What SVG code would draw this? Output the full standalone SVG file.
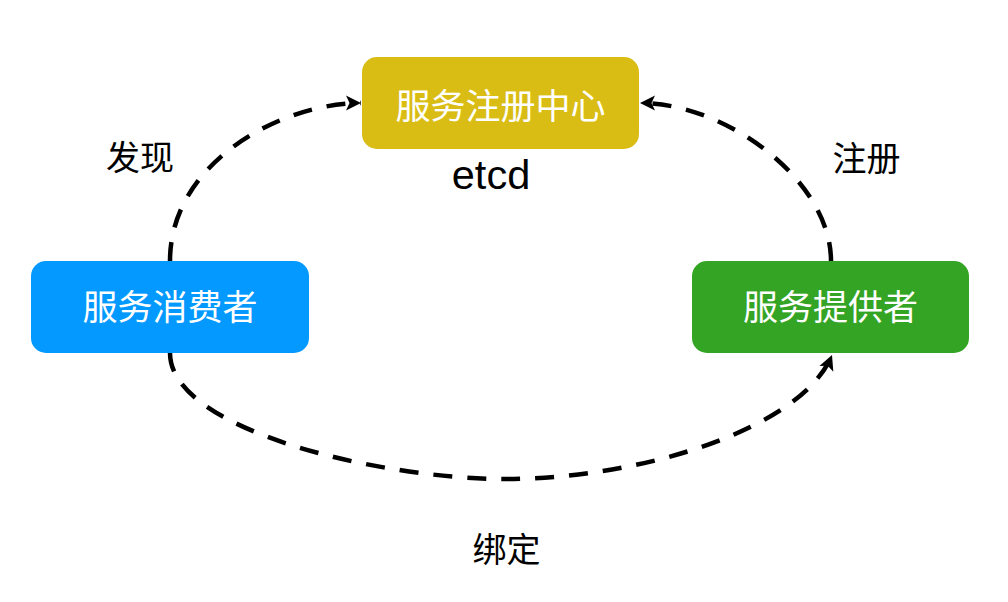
<svg xmlns="http://www.w3.org/2000/svg" width="1008" height="602" viewBox="0 0 1008 602">
  <style>
    .node-text { font-family: "Noto Sans CJK SC", "Noto Sans", sans-serif; font-size: 35px; fill: #ffffff; text-anchor: middle; }
    .label { font-family: "Noto Sans CJK SC", "Noto Sans", sans-serif; font-size: 34px; fill: #000000; text-anchor: middle; }
    .latin { font-family: "Liberation Sans", Arial, sans-serif; font-size: 41.5px; fill: #000000; text-anchor: middle; }
    .edge { fill: none; stroke: #000000; stroke-width: 4.5; stroke-dasharray: 19 15; marker-end: url(#arrow); }
  </style>
  <defs>
    <marker id="arrow" markerUnits="userSpaceOnUse" viewBox="-16 -9 18 18" refX="0" refY="0" markerWidth="18" markerHeight="18" orient="auto">
      <path d="M0,0 L-15,-7.5 L-11.5,0 L-15,7.5 Z" fill="#000000"/>
    </marker>
  </defs>
  <rect width="1008" height="602" fill="#ffffff"/>

  <g id="connectors">
    <path id="edge-discover" class="edge" d="M170,261 C170,162 282,103 361,103"/>
    <path id="edge-register" class="edge" d="M831,261 C831,181 727,103 640,103"/>
    <path id="edge-bind" class="edge" d="M170,353 C170,430 380,479 505,479 C640,479 802,429 832,355"/>
  </g>

  <g id="node-registry">
    <rect x="362" y="57" width="277" height="92" rx="15" ry="15" fill="#DABD14"/>
    <text class="node-text" x="500.5" y="119">服务注册中心</text>
  </g>
  <g id="node-consumer">
    <rect x="31" y="261" width="278" height="92" rx="15" ry="15" fill="#0399FF"/>
    <text class="node-text" x="170" y="320">服务消费者</text>
  </g>
  <g id="node-provider">
    <rect x="692" y="261" width="277" height="92" rx="15" ry="15" fill="#34A424"/>
    <text class="node-text" x="830.5" y="320">服务提供者</text>
  </g>

  <g id="labels">
    <text class="latin" x="491" y="188.5">etcd</text>
    <text class="label" x="140" y="170">发现</text>
    <text class="label" x="866.5" y="171">注册</text>
    <text class="label" x="506.5" y="562">绑定</text>
  </g>
</svg>
